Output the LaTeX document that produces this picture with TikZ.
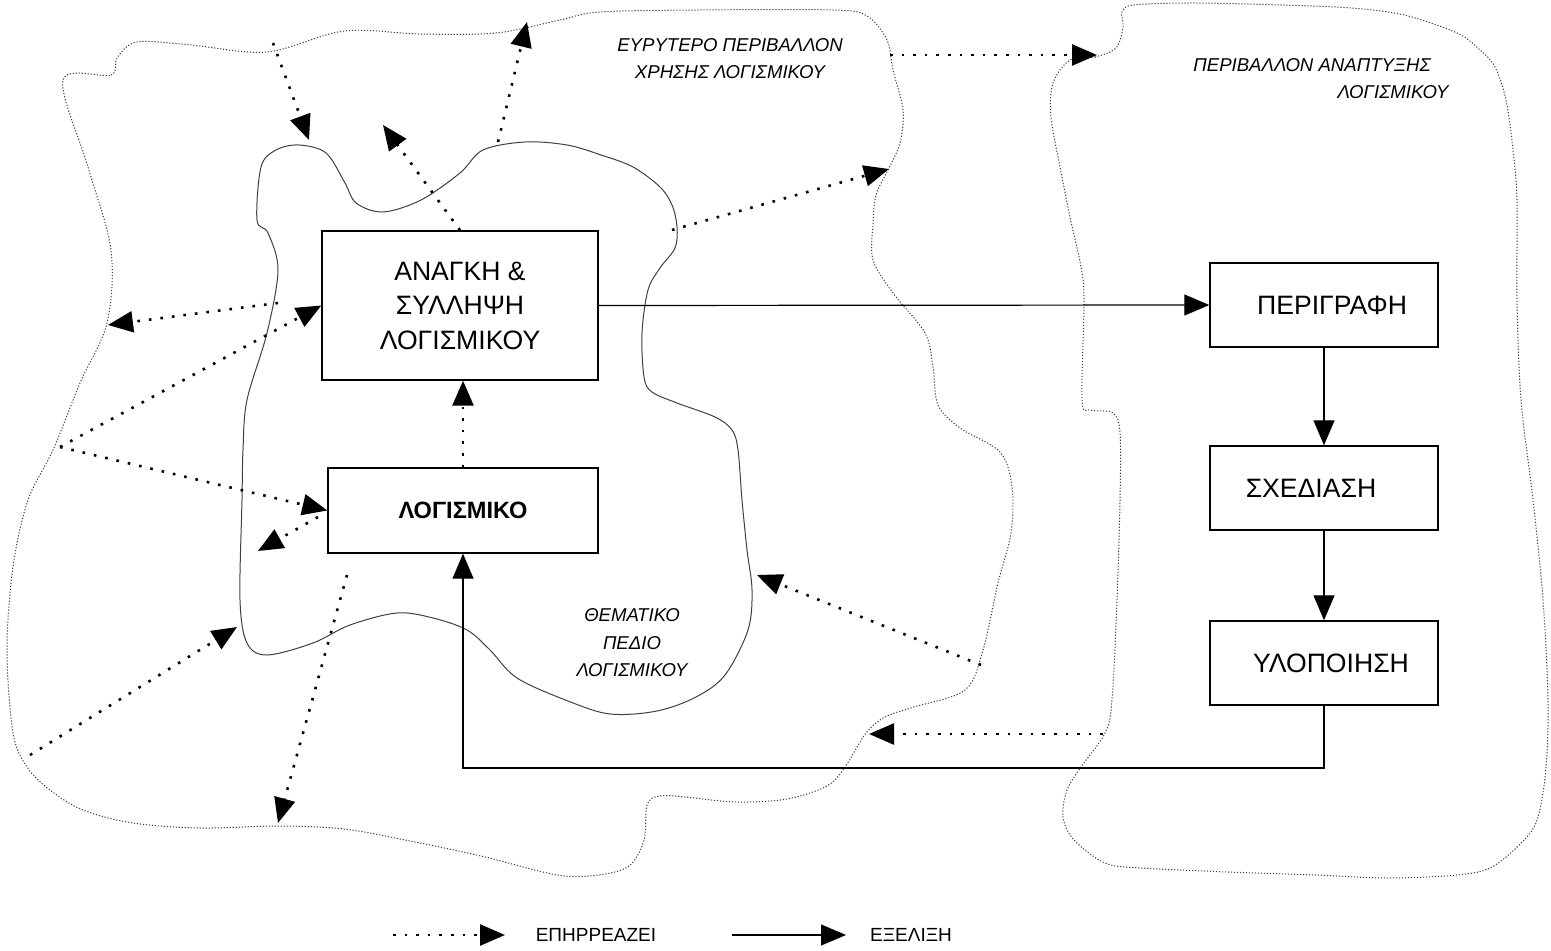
\documentclass[tikz,border=0pt]{standalone}
\usepackage{fontspec}
\setmainfont{Liberation Sans}
\usetikzlibrary{arrows.meta}

\begin{document}
\begin{tikzpicture}[x=0.5pt,y=-0.5pt,
  >={Triangle[length=12.5pt,width=10.5pt]},
  box/.style={draw, rectangle, line width=0.7pt, inner sep=0pt, align=center,
    font=\fontsize{13.3}{17.25}\selectfont},
  epirreazei/.style={->, line width=1.3pt, dash pattern=on 1.3pt off 4.5pt},
  exelixi/.style={->, line width=0.6pt},
  perivallon/.style={black!75, line width=0.5pt, dash pattern=on 0.6pt off 0.9pt},
  pedio/.style={black!75, line width=0.5pt},
  titlos/.style={font=\fontsize{9.3}{13.75}\selectfont\itshape, align=center}]
\useasboundingbox (0,0) rectangle (1551,951);

% clouds
\draw[perivallon] plot[smooth cycle, tension=0.55] coordinates {
  (63,80) (111,75) (117,58) (137,42) (191,45) (267,52) (344,31) (420,34)
  (496,33) (560,20) (600,12) (700,10) (833,10) (867,16) (887,40) (893,70)
  (903,110) (900,143) (888,170) (876,195) (873,225) (873,260) (893,293)
  (925,333) (933,367) (938,405) (960,428) (1000,452) (1012,487) (1011,533)
  (998,583) (983,650) (965,690) (914,707) (885,717) (866,733) (845,767)
  (827,786) (787,799) (736,802) (685,797) (659,796) (647,805) (644,840)
  (629,866) (598,875) (557,875) (481,856) (405,840) (344,829) (280,826)
  (200,828) (133,823) (83,810) (50,790) (27,767) (13,733) (7,650) (13,567)
  (28,500) (53,450) (80,383) (107,323) (111,250) (88,167)};
\draw[perivallon] plot[smooth cycle, tension=0.55] coordinates {
  (1070,60) (1095,57) (1116,48) (1123,27) (1122,12) (1134,5) (1193,3)
  (1281,5) (1351,8) (1404,15) (1457,33) (1480,50) (1495,67) (1506,100)
  (1513,150) (1517,200) (1517,300) (1521,400) (1533,500) (1543,600)
  (1548,700) (1546,767) (1538,817) (1524,840) (1492,867) (1457,875)
  (1387,878) (1316,875) (1228,872) (1141,868) (1105,863) (1074,840)
  (1063,817) (1067,790) (1081,767) (1105,733) (1112,700) (1117,600)
  (1120,500) (1120,433) (1113,413) (1090,410) (1082,400) (1084,300)
  (1081,267) (1070,217) (1060,167) (1051,117) (1053,83)};
\draw[pedio] plot[smooth cycle, tension=0.55] coordinates {
  (257,220) (261,167) (276,150) (299,145) (326,153) (345,183) (356,203)
  (383,212) (421,200) (460,173) (483,150) (525,142) (567,145) (601,155)
  (633,167) (660,187) (672,205) (677,227) (675,248) (660,268) (648,290)
  (642,333) (644,377) (652,392) (677,403) (715,417) (732,430) (738,450)
  (742,500) (747,550) (752,590) (748,630) (725,675) (696,697) (657,711)
  (610,714) (568,701) (517,678) (490,650) (467,630) (433,618) (397,613)
  (350,625) (313,643) (267,655) (247,643) (240,600) (242,500) (243,450)
  (247,400) (267,333) (278,270) (268,233)};

% boxes
\node at (460,305.5) [box, minimum width=138pt, minimum height=74.5pt] (anagki)
  {ΑΝΑΓΚΗ \&\\ΣΥΛΛΗΨΗ\\ΛΟΓΙΣΜΙΚΟΥ};
\node at (463,510.5) [box, minimum width=135pt, minimum height=42.5pt] (logismiko)
  {\fontsize{11.8}{14}\selectfont\bfseries ΛΟΓΙΣΜΙΚΟ};
\node at (1324,305) [box, minimum width=114pt, minimum height=42pt] (perigrafi)
  {\hspace*{8pt}ΠΕΡΙΓΡΑΦΗ};
\node at (1324,488) [box, minimum width=114pt, minimum height=42pt] (schediasi)
  {ΣΧΕΔΙΑΣΗ\hspace*{13pt}};
\node at (1324,663) [box, minimum width=114pt, minimum height=42pt] (ylopoiisi)
  {\hspace*{7pt}ΥΛΟΠΟΙΗΣΗ};

% labels
\node[titlos] at (730,58.5) (eyrytero) {ΕΥΡΥΤΕΡΟ ΠΕΡΙΒΑΛΛΟΝ\\ΧΡΗΣΗΣ ΛΟΓΙΣΜΙΚΟΥ};
\node[titlos] at (1312,65) (anaptyxi) {ΠΕΡΙΒΑΛΛΟΝ ΑΝΑΠΤΥΞΗΣ};
\node[titlos] at (1393,92) (anaptyxi2) {ΛΟΓΙΣΜΙΚΟΥ};
\node[titlos] at (632,643) (thematiko) {ΘΕΜΑΤΙΚΟ\\ΠΕΔΙΟ\\ΛΟΓΙΣΜΙΚΟΥ};

% evolution
\coordinate (gonia) at (1324,768);
\draw[exelixi] (anagki.east) -- (perigrafi.west);
\draw[exelixi] (perigrafi) -- (schediasi);
\draw[exelixi] (schediasi) -- (ylopoiisi);
\draw[exelixi] (ylopoiisi.south) -- (gonia) -| (logismiko.south);

% influences
\coordinate (p1) at (273,43);   \coordinate (q1) at (309,140);
\coordinate (q2) at (383,125);
\coordinate (p3) at (498,142);  \coordinate (q3) at (527,22);
\coordinate (p4) at (672,230);  \coordinate (q4) at (889,169);
\coordinate (p5) at (890,55);   \coordinate (q5) at (1097,55);
\coordinate (p6) at (278,303);  \coordinate (q6) at (108,325);
\coordinate (p7) at (60,447);
\coordinate (p9) at (318,517);  \coordinate (q9) at (258,551);
\coordinate (p10) at (30,755);  \coordinate (q10) at (237,627);
\coordinate (p11) at (347,575); \coordinate (q11) at (278,823);
\coordinate (p12) at (981,665); \coordinate (q12) at (757,575);
\coordinate (p13) at (1103,734); \coordinate (q13) at (869,734);
\draw[epirreazei] (p1) -- (q1);
\draw[epirreazei] (anagki.north) -- (q2);
\draw[epirreazei] (p3) -- (q3);
\draw[epirreazei] (p4) -- (q4);
\draw[epirreazei] (p5) -- (q5);
\draw[epirreazei] (p6) -- (q6);
\draw[epirreazei] (p7) -- (anagki.west);
\draw[epirreazei] (p7) -- (logismiko.west);
\draw[epirreazei] (p9) -- (q9);
\draw[epirreazei] (p10) -- (q10);
\draw[epirreazei] (p11) -- (q11);
\draw[epirreazei] (p12) -- (q12);
\draw[epirreazei] (p13) -- (q13);
\draw[epirreazei] (logismiko.north) -- (logismiko.north |- anagki.south);

% legend
\coordinate (l1) at (393,935); \coordinate (l2) at (505,935);
\coordinate (l3) at (732,935); \coordinate (l4) at (846,935);
\node[font=\fontsize{9.5}{11}\selectfont] at (596,935) (leg1) {ΕΠΗΡΡΕΑΖΕΙ};
\node[font=\fontsize{9.5}{11}\selectfont] at (911,935) (leg2) {ΕΞΕΛΙΞΗ};
\draw[epirreazei] (l1) -- (l2);
\draw[exelixi] (l3) -- (l4);
\end{tikzpicture}
\end{document}
